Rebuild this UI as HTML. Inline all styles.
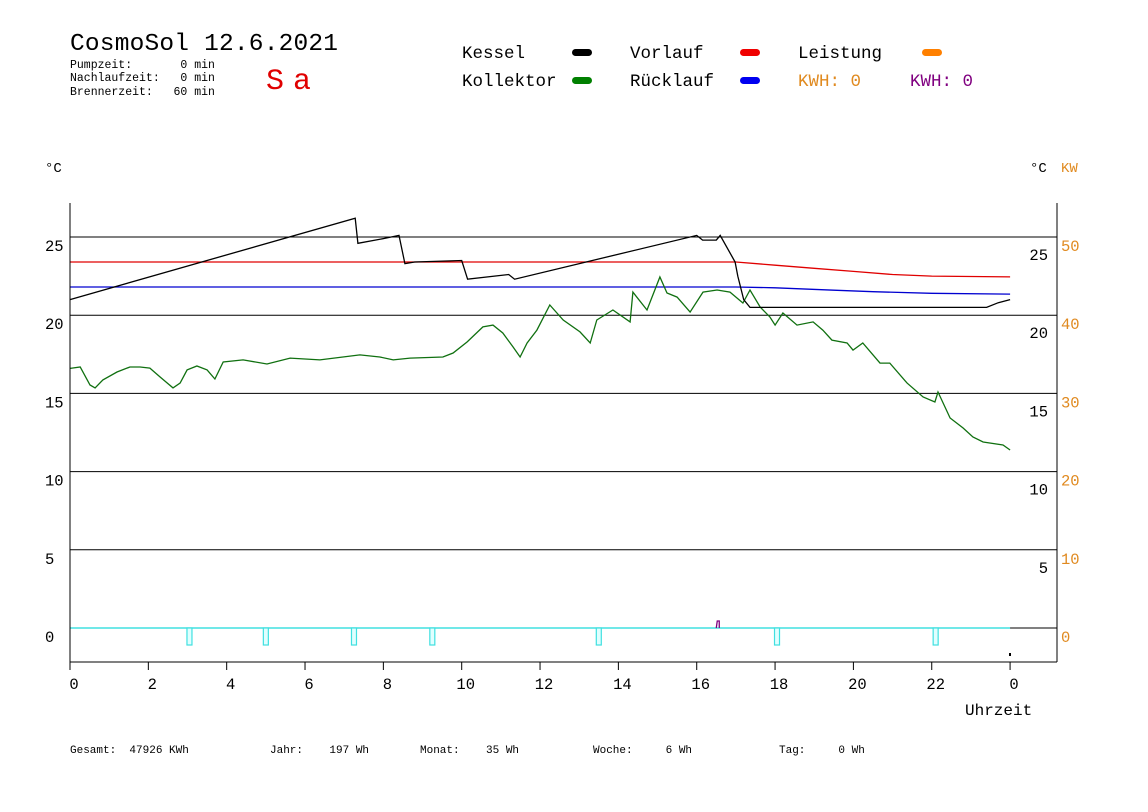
<!DOCTYPE html>
<html><head><meta charset="utf-8"><style>
html,body{margin:0;padding:0;background:#fff;}
svg{display:block;font-family:"Liberation Mono",monospace;}
</style></head><body>
<svg id="chart" width="1148" height="812" viewBox="0 0 1148 812" xmlns="http://www.w3.org/2000/svg">
<rect width="1148" height="812" fill="#fff"/>
<g>
<text x="70" y="50" font-size="24.5" fill="#000" textLength="268">CosmoSol 12.6.2021</text>
<text x="70" y="68" font-size="11.5" xml:space="preserve">Pumpzeit:       0 min</text>
<text x="70" y="81" font-size="11.5" xml:space="preserve">Nachlaufzeit:   0 min</text>
<text x="70" y="95" font-size="11.5" xml:space="preserve">Brennerzeit:   60 min</text>
<text x="266" y="89" font-size="30" fill="#e00000" textLength="45">Sa</text>
</g>
<g font-size="17.5">
<text x="462" y="58">Kessel</text>
<rect x="572" y="49" width="20" height="7" rx="3.5" fill="#000"/>
<text x="462" y="86">Kollektor</text>
<rect x="572" y="77" width="20" height="7" rx="3.5" fill="#008000"/>
<text x="630" y="58">Vorlauf</text>
<rect x="740" y="49" width="20" height="7" rx="3.5" fill="#f00000"/>
<text x="630" y="86">Rücklauf</text>
<rect x="740" y="77" width="20" height="7" rx="3.5" fill="#0000f0"/>
<text x="798" y="58">Leistung</text>
<rect x="922" y="49" width="20" height="7" rx="3.5" fill="#ff8000"/>
<text x="798" y="86" fill="#e08a20">KWH: 0</text>
<text x="910" y="86" fill="#800080">KWH: 0</text>
</g>
<text x="45" y="172" font-size="14">°C</text>
<text x="1030" y="172" font-size="14">°C</text>
<text x="1061" y="172" font-size="14" fill="#e08a20">KW</text>
<g id="grid"></g>
<g id="series"></g>
<g id="axes">
<line x1="70" y1="203" x2="70" y2="662" stroke="#000"/>
<line x1="1057" y1="203" x2="1057" y2="662" stroke="#000"/>
<line x1="70" y1="662" x2="1057" y2="662" stroke="#000"/>
<rect x="1009" y="653" width="2" height="3" fill="#000"/>
</g>
<text x="965" y="715" font-size="16">Uhrzeit</text>
<g font-size="11">
<text x="70" y="753" xml:space="preserve">Gesamt:  47926 KWh</text>
<text x="270" y="753" xml:space="preserve">Jahr:    197 Wh</text>
<text x="420" y="753" xml:space="preserve">Monat:    35 Wh</text>
<text x="593" y="753" xml:space="preserve">Woche:     6 Wh</text>
<text x="779" y="753" xml:space="preserve">Tag:     0 Wh</text>
</g>
</svg>
<script>
const tempTicks=[0,5,10,15,20,25];
const rightTempTicks=[5,10,15,20,25];
const kwTicks=[0,10,20,30,40,50];
const hourTicks=[0,2,4,6,8,10,12,14,16,18,20,22,24];
const hourLabels=["0","2","4","6","8","10","12","14","16","18","20","22","0"];
const kesselH=[0,7.28,7.35,8.0,8.4,8.55,8.8,10.0,10.15,11.2,11.35,16.0,16.15,16.5,16.6,16.98,17.05,17.2,17.36,23.4,23.7,24];
const kesselT=[21.0,26.2,24.6,24.9,25.1,23.3,23.4,23.5,22.3,22.6,22.3,25.1,24.8,24.8,25.1,23.4,22.5,21.0,20.5,20.5,20.8,21.0];
const vorlaufH=[0,17,18,19,20,21,22,24];
const vorlaufT=[23.4,23.4,23.2,23.0,22.8,22.6,22.5,22.45];
const ruecklaufH=[0,17,18,19.5,20.5,22,24];
const ruecklaufT=[21.8,21.8,21.75,21.6,21.5,21.4,21.35];
const kollektorH=[0,0.05,0.26,0.51,0.64,0.84,1.20,1.53,1.79,2.04,2.30,2.63,2.81,2.99,3.24,3.50,3.70,3.91,4.42,5.03,5.62,6.38,7.40,7.91,8.25,8.68,9.52,9.78,10.14,10.54,10.80,11.05,11.31,11.49,11.67,11.92,12.25,12.59,13.02,13.28,13.45,13.86,14.30,14.37,14.73,15.06,15.24,15.50,15.83,16.16,16.52,16.85,17.18,17.36,17.62,17.87,18.00,18.20,18.56,18.97,19.22,19.45,19.84,19.99,20.24,20.68,20.93,21.37,21.78,22.08,22.16,22.47,22.80,23.05,23.31,23.82,24.0];
const kollektorT=[16.6,16.62,16.69,15.54,15.35,15.86,16.37,16.69,16.69,16.62,16.05,15.35,15.66,16.50,16.75,16.50,15.92,17.01,17.14,16.88,17.26,17.14,17.46,17.33,17.14,17.26,17.33,17.58,18.29,19.25,19.37,18.86,17.97,17.33,18.22,19.05,20.65,19.69,18.93,18.22,19.69,20.33,19.57,21.48,20.33,22.44,21.42,21.16,20.20,21.48,21.61,21.48,20.78,21.61,20.52,19.88,19.37,20.14,19.37,19.57,19.05,18.41,18.22,17.77,18.22,16.94,16.94,15.66,14.77,14.45,15.09,13.43,12.79,12.21,11.89,11.70,11.38];
const pumpH=[3.05,5.0,7.25,9.25,13.5,18.05,22.1];
const purpleH=[16.55];

const NS="http://www.w3.org/2000/svg";
function xS(h){return 70+h*39.17;}
function yS(t){return 628-t*15.64;}
function yK(k){return 628-k*7.82;}
function mk(tag,attrs,parent){const e=document.createElementNS(NS,tag);for(const k in attrs)e.setAttribute(k,attrs[k]);parent.appendChild(e);return e;}
const grid=document.getElementById('grid');
const axes=document.getElementById('axes');
const series=document.getElementById('series');
tempTicks.forEach(t=>{
  const l=mk('line',{x1:70,x2:1057,y1:yS(t),y2:yS(t),stroke:'#000'},grid);
  
  
  const a=mk('text',{x:45,y:yS(t)+14,'font-size':15.5},axes);a.textContent=t;
  
  
});
rightTempTicks.forEach(t=>{
  const b=mk('text',{x:1048,y:yS(t)+23,'font-size':15.5,'text-anchor':'end'},axes);b.textContent=t;
  
  
});
kwTicks.forEach(k=>{
  const a=mk('text',{x:1061,y:yK(k)+14,'font-size':15.5,fill:'#e08a20'},axes);a.textContent=k;
  
  
});
hourTicks.forEach((h,i)=>{
  const l=mk('line',{x1:xS(h),x2:xS(h),y1:662,y2:670,stroke:'#000'},axes);
  
  
  const t=mk('text',{x:xS(h)+4,y:689,'font-size':15.5,'text-anchor':'middle'},axes);t.textContent=hourLabels[i];
  
  
});
const cy=mk('line',{x1:xS(0),x2:xS(24),y1:yS(0),y2:yS(0),stroke:'#40e0e0','stroke-width':1.5},series);


pumpH.forEach(h=>{
  const r=mk('rect',{x:xS(h)-2.5,y:yS(0),width:5,height:17,fill:'#e0ffff',stroke:'#40e0e0','stroke-width':1.2},series);
  
  
});
purpleH.forEach(h=>{
  const p=mk('path',{d:`M${xS(h)-2} ${yS(0)} L${xS(h)-1} ${yS(0)-7} L${xS(h)+1} ${yS(0)-7} L${xS(h)+1} ${yS(0)}`,fill:'none',stroke:'#800080','stroke-width':1.3},series);
  
  
});
function line(H,T,color,name){
  const pts=H.map((h,i)=>xS(h).toFixed(1)+','+yS(T[i]).toFixed(1)).join(' ');
  const p=mk('polyline',{points:pts,fill:'none',stroke:color,'stroke-width':1.3},series);
  
  
}
line(vorlaufH,vorlaufT,'#e00000','vorlauf-line');
line(ruecklaufH,ruecklaufT,'#0000d0','ruecklauf-line');
line(kollektorH,kollektorT,'#107010','kollektor-line');
line(kesselH,kesselT,'#000','kessel-line');
</script>
</body></html>
